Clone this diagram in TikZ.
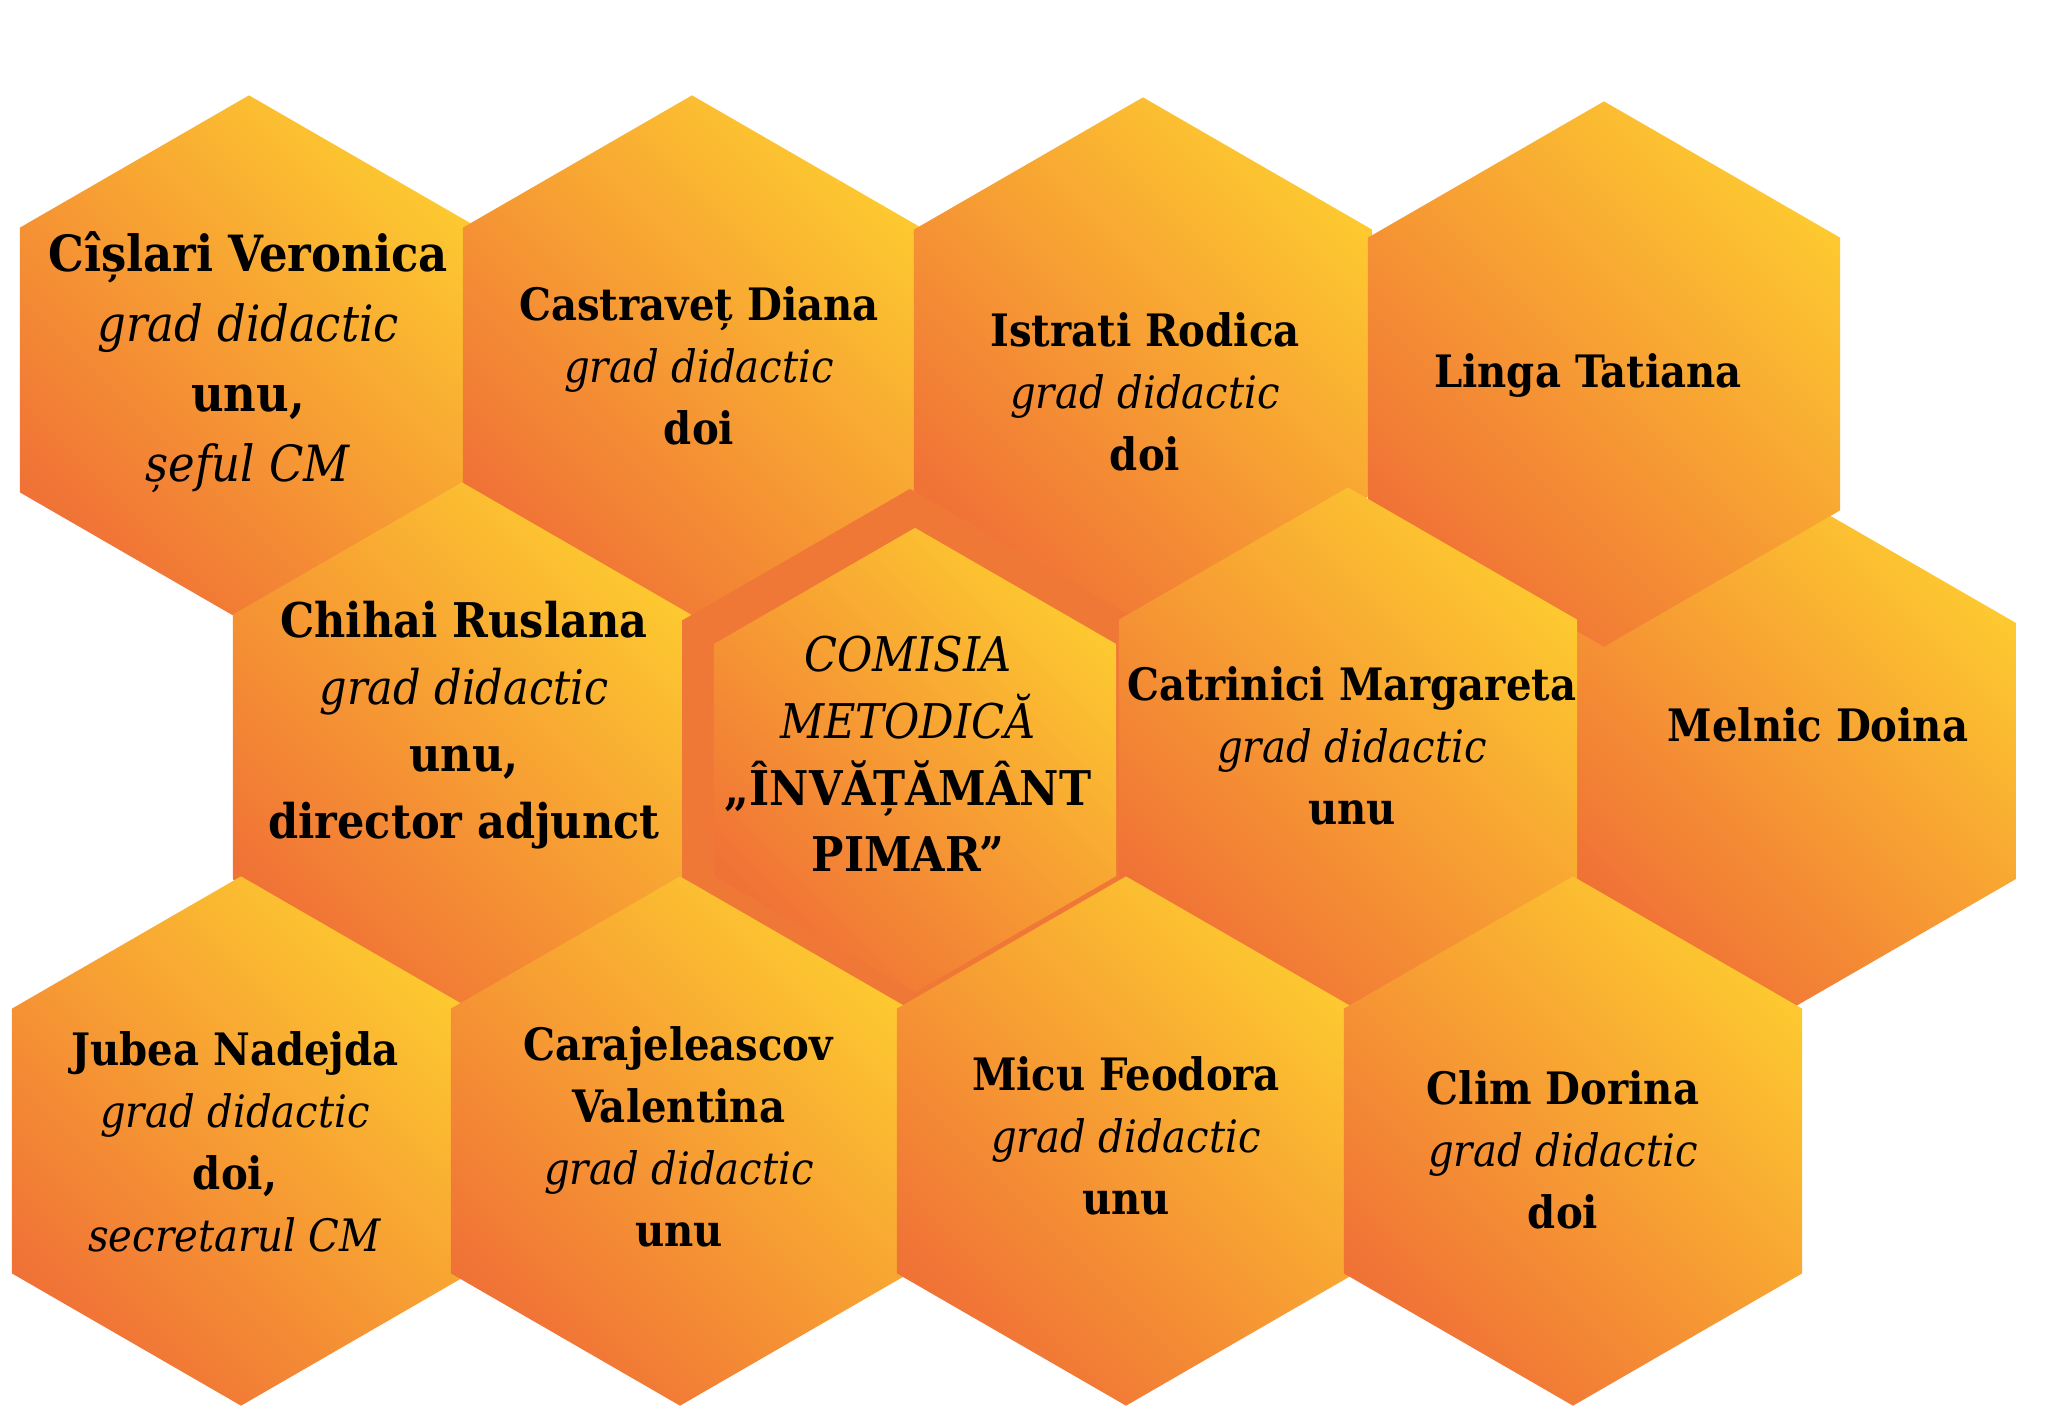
\documentclass[tikz,border=0pt]{standalone}
\usepackage{xcolor}
\usepackage{fontspec}
\setmainfont{DejaVu Serif Condensed}
\usepackage{tikz}
\usetikzlibrary{shapes.geometric, positioning}
\definecolor{honeyyellow}{HTML}{FDC830}
\definecolor{honeyorange}{HTML}{F07236}
\definecolor{honeyrim}{HTML}{F07837}
\tikzstyle{hexcell} = [regular polygon,
regular polygon sides=6,
shape border rotate=90,
minimum size=5.29cm,
inner sep=0pt, outer sep=0pt,
top color=honeyyellow,
bottom color=honeyorange,
shading angle=-45]
\tikzstyle{bighexcell} = [hexcell, minimum size=5.45cm]
\tikzstyle{smallhexcell} = [hexcell, minimum size=5.12cm]
\tikzstyle{innercell} = [hexcell, minimum size=4.64cm]
\tikzstyle{rimcell} = [regular polygon,
regular polygon sides=6,
shape border rotate=90,
minimum size=5.26cm,
inner sep=0pt, outer sep=0pt,
fill=honeyrim]
\tikzstyle{member} = [align=center, font=\fontsize{12.7}{17.6}\selectfont]
\tikzstyle{leader} = [align=center, font=\fontsize{14.2}{19.9}\selectfont]
\tikzstyle{deputy} = [align=center, font=\fontsize{13.6}{19}\selectfont]

\begin{document}
\begin{tikzpicture}[x=0.01cm, y=-0.01cm]
                \fill[white] (0,0) rectangle (2048,1414);
                \useasboundingbox (0,0) rectangle (2048,1414);

                \node (melnic) [smallhexcell] at (1794,751) {};
                \node (cislari) [hexcell] at (249,360) {};
                \node (castravet) [hexcell] at (692,360) {};
                \node (istrati) [hexcell] at (1143,362) {};
                \node (linga) [bighexcell] at (1604,374) {};
                \node (chihai) [hexcell] at (462,747) {};
                \node (comisiarim) [rimcell] at (910,752) {};
                \node (catrinici) [hexcell] at (1348,752) {};
                \node (jubea) [hexcell] at (241,1141) {};
                \node (carajeleascov) [hexcell] at (680,1141) {};
                \node (micu) [hexcell] at (1126,1141) {};
                \node (clim) [hexcell] at (1573,1141) {};
                \node (comisia) [innercell] at (915,760) {};

                \node (cislaritext) [leader] at (248,362) {\textbf{Cîșlari Veronica}\\ \textit{grad didactic}\\ \textbf{unu,}\\ \textit{șeful CM}};
                \node (castravettext) [member] at (699,366) {\textbf{Castraveț Diana}\\ \textit{grad didactic}\\ \textbf{doi}};
                \node (istratitext) [member] at (1145,392) {\textbf{Istrati Rodica}\\ \textit{grad didactic}\\ \textbf{doi}};
                \node (lingatext) [member] at (1588,375) {\textbf{Linga Tatiana}};
                \node (chihaitext) [deputy] at (464,725) {\textbf{Chihai Ruslana}\\ \textit{grad didactic}\\ \textbf{unu,}\\ \textbf{director adjunct}};
                \node (comisiatext) [deputy] at (908,754) {\textit{COMISIA}\\ \textit{METODICĂ}\\ \textbf{„ÎNVĂȚĂMÂNT}\\ \textbf{PIMAR”}};
                \node (catrinicitext) [member] at (1352,746) {\textbf{Catrinici Margareta}\\ \textit{grad didactic}\\ \textbf{unu}};
                \node (melnictext) [member] at (1818,725) {\textbf{Melnic Doina}};
                \node (jubeatext) [member] at (235,1142) {\textbf{Jubea Nadejda}\\ \textit{grad didactic}\\ \textbf{doi,}\\ \textit{secretarul CM}};
                \node (carajeleascovtext) [member] at (679,1137) {\textbf{Carajeleascov}\\ \textbf{Valentina}\\ \textit{grad didactic}\\ \textbf{unu}};
                \node (micutext) [member] at (1126,1136) {\textbf{Micu Feodora}\\ \textit{grad didactic}\\ \textbf{unu}};
                \node (climtext) [member] at (1563,1150) {\textbf{Clim Dorina}\\ \textit{grad didactic}\\ \textbf{doi}};
            \end{tikzpicture}
\end{document}
